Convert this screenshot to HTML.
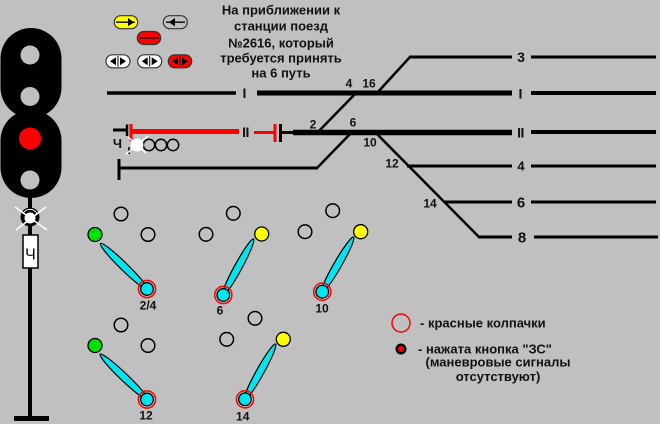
<!DOCTYPE html>
<html>
<head>
<meta charset="utf-8">
<style>
html,body{margin:0;padding:0;background:#c0c0c0;}
svg{display:block;}
text{font-family:"Liberation Sans","Noto Sans CJK SC",sans-serif;font-weight:bold;fill:#111;}
</style>
</head>
<body>
<svg width="660" height="424" viewBox="0 0 660 424" xmlns="http://www.w3.org/2000/svg">
<rect x="0" y="0" width="660" height="424" fill="#c0c0c0"/>

<!-- Signal heads -->
<rect x="0.5" y="28" width="61" height="90" rx="30.5" fill="#000"/>
<rect x="0.5" y="110" width="61" height="88" rx="30.5" fill="#000"/>
<circle cx="30" cy="55" r="9.5" fill="#c0c0c0"/>
<circle cx="30" cy="96.5" r="9.5" fill="#c0c0c0"/>
<circle cx="30" cy="138.5" r="11" fill="#ff0000"/>
<circle cx="30" cy="180" r="9.5" fill="#c0c0c0"/>
<!-- post -->
<rect x="28" y="190" width="4" height="228" fill="#000"/>
<rect x="14" y="416" width="35" height="5" fill="#000"/>
<!-- lamp -->
<circle cx="30" cy="217" r="9.5" fill="#000"/>
<path d="M23 214 A7.5 7.5 0 0 1 37 214" fill="none" stroke="#fff" stroke-width="1"/>
<circle cx="30" cy="218" r="5.5" fill="#fff"/>
<line x1="15" y1="207" x2="47" y2="230" stroke="#fff" stroke-width="1.5"/>
<line x1="46" y1="207" x2="16" y2="230" stroke="#fff" stroke-width="1.5"/>
<!-- route box -->
<rect x="23" y="235" width="15" height="33" fill="#fff" stroke="#000" stroke-width="1.5"/>
<text x="30.5" y="259.5" font-size="16" text-anchor="middle" style="font-weight:normal">Ч</text>

<!-- top buttons -->
<rect x="114.3" y="15.7" width="23.4" height="13" rx="6.5" fill="#ffff00" stroke="#333" stroke-width="1.2"/>
<line x1="116" y1="22.2" x2="135" y2="22.2" stroke="#000" stroke-width="1.3"/>
<polygon points="128,18 134,22.2 128,26.4" fill="#000"/>
<rect x="163.3" y="15.7" width="24" height="13" rx="6.5" fill="#c0c0c0" stroke="#333" stroke-width="1.2"/>
<line x1="166" y1="22.2" x2="185" y2="22.2" stroke="#000" stroke-width="1.3"/>
<polygon points="175,18 169,22.2 175,26.4" fill="#000"/>
<rect x="137.3" y="31.5" width="23.4" height="13" rx="6.5" fill="#ff0000" stroke="#333" stroke-width="1.2"/>
<line x1="139" y1="38" x2="159" y2="38" stroke="#000" stroke-width="1.3"/>

<rect x="106" y="54.8" width="24" height="13" rx="6.5" fill="#fff" stroke="#333" stroke-width="1.2"/>
<polygon points="110,61.3 116,57.3 116,65.3" fill="#000"/>
<polygon points="126,61.3 120,57.3 120,65.3" fill="#000"/>
<line x1="118" y1="56" x2="118" y2="66.5" stroke="#000" stroke-width="1"/>
<rect x="137.7" y="54.8" width="24" height="13" rx="6.5" fill="#fff" stroke="#333" stroke-width="1.2"/>
<polygon points="141.7,61.3 147.7,57.3 147.7,65.3" fill="#000"/>
<polygon points="157.7,61.3 151.7,57.3 151.7,65.3" fill="#000"/>
<line x1="149.7" y1="56" x2="149.7" y2="66.5" stroke="#000" stroke-width="1"/>
<rect x="168.3" y="54.8" width="23.4" height="13" rx="6.5" fill="#ff0000" stroke="#333" stroke-width="1.2"/>
<polygon points="172,61.3 178,57.3 178,65.3" fill="#000"/>
<polygon points="188,61.3 182,57.3 182,65.3" fill="#000"/>
<line x1="180" y1="56" x2="180" y2="66.5" stroke="#000" stroke-width="1"/>

<!-- Title text -->
<text x="281" y="14.5" font-size="13" text-anchor="middle">На приближении к</text>
<text x="281" y="30.5" font-size="13" text-anchor="middle">станции поезд</text>
<text x="281" y="47.5" font-size="13" text-anchor="middle">№2616, который</text>
<text x="281" y="62.5" font-size="13" text-anchor="middle">требуется принять</text>
<text x="281" y="77.5" font-size="13" text-anchor="middle">на 6 путь</text>

<!-- Track 3 -->
<line x1="377" y1="93" x2="410" y2="57" stroke="#000" stroke-width="2.5"/>
<line x1="409" y1="57" x2="512" y2="57" stroke="#000" stroke-width="3"/>
<text x="521" y="62" font-size="14" text-anchor="middle">3</text>
<line x1="531" y1="57" x2="656" y2="57" stroke="#000" stroke-width="3"/>

<!-- Track I -->
<line x1="107" y1="93" x2="236" y2="93" stroke="#000" stroke-width="3.5"/>
<text x="244.5" y="98" font-size="14" text-anchor="middle">I</text>
<line x1="257" y1="93" x2="512" y2="93" stroke="#000" stroke-width="5"/>
<text x="520.5" y="98.5" font-size="14" text-anchor="middle">I</text>
<line x1="531" y1="93" x2="656" y2="93" stroke="#000" stroke-width="4"/>

<!-- Track II -->
<line x1="113" y1="130" x2="127" y2="130" stroke="#000" stroke-width="3"/>
<line x1="127" y1="124.5" x2="127" y2="136" stroke="#000" stroke-width="2.5"/>
<line x1="131" y1="124" x2="131" y2="141" stroke="#ff0000" stroke-width="3"/>
<line x1="131" y1="131.5" x2="239" y2="131.5" stroke="#ff0000" stroke-width="5"/>
<text x="245.5" y="137" font-size="14" text-anchor="middle" letter-spacing="-0.5">II</text>
<line x1="254" y1="132.5" x2="275" y2="132.5" stroke="#ff0000" stroke-width="3"/>
<line x1="275" y1="124" x2="275" y2="142" stroke="#ff0000" stroke-width="3"/>
<line x1="280.5" y1="124" x2="280.5" y2="142" stroke="#000" stroke-width="3"/>
<line x1="280" y1="132.5" x2="294" y2="132.5" stroke="#000" stroke-width="3"/>
<line x1="293" y1="132.5" x2="512" y2="132.5" stroke="#000" stroke-width="5.5"/>
<text x="520.5" y="137.5" font-size="14" text-anchor="middle" letter-spacing="-0.5">II</text>
<line x1="531" y1="132" x2="656" y2="132" stroke="#000" stroke-width="4"/>

<!-- shunting signal -->
<text x="117.5" y="148" font-size="13" text-anchor="middle">Ч</text>
<line x1="129" y1="147" x2="129" y2="154" stroke="#000" stroke-width="1.5"/>
<circle cx="149" cy="145" r="5.7" fill="none" stroke="#000" stroke-width="1.5"/>
<circle cx="161" cy="145" r="5.7" fill="none" stroke="#000" stroke-width="1.5"/>
<circle cx="173" cy="145" r="5.7" fill="none" stroke="#000" stroke-width="1.5"/>
<circle cx="137" cy="145" r="6.5" fill="#fff"/>
<line x1="126" y1="154" x2="148" y2="136" stroke="#fff" stroke-width="1.5"/>
<line x1="128" y1="137" x2="146" y2="153" stroke="#fff" stroke-width="1.5"/>

<!-- bottom track -->
<line x1="119" y1="159" x2="119" y2="180" stroke="#000" stroke-width="3"/>
<line x1="119" y1="168" x2="318" y2="168" stroke="#000" stroke-width="3"/>
<line x1="317" y1="168" x2="352" y2="132" stroke="#000" stroke-width="2.5"/>

<!-- crossovers -->
<line x1="318" y1="132" x2="356" y2="93" stroke="#000" stroke-width="2.5"/>
<line x1="375" y1="132" x2="479" y2="237" stroke="#000" stroke-width="2.5"/>

<!-- tracks 4 6 8 -->
<line x1="407" y1="166" x2="512" y2="166" stroke="#000" stroke-width="3"/>
<text x="521" y="170.5" font-size="13" text-anchor="middle">4</text>
<line x1="531" y1="166" x2="656" y2="166" stroke="#000" stroke-width="3"/>
<line x1="445" y1="202" x2="512" y2="202" stroke="#000" stroke-width="3"/>
<text x="521" y="207.5" font-size="15" text-anchor="middle">6</text>
<line x1="531" y1="202" x2="656" y2="202" stroke="#000" stroke-width="3"/>
<line x1="478" y1="237" x2="512" y2="237" stroke="#000" stroke-width="3"/>
<text x="522" y="242.5" font-size="15" text-anchor="middle">8</text>
<line x1="534" y1="237" x2="658" y2="237" stroke="#000" stroke-width="3"/>

<!-- switch numbers -->
<text x="349" y="87.5" font-size="12" text-anchor="middle">4</text>
<text x="369" y="87.5" font-size="12" text-anchor="middle">16</text>
<text x="313" y="128.5" font-size="12" text-anchor="middle">2</text>
<text x="353" y="126.5" font-size="12" text-anchor="middle">6</text>
<text x="370" y="146.5" font-size="12" text-anchor="middle">10</text>
<text x="392" y="167.5" font-size="12" text-anchor="middle">12</text>
<text x="430" y="207.5" font-size="12" text-anchor="middle">14</text>

<!-- Lever 2/4 -->
<circle cx="121" cy="214" r="6.8" fill="none" stroke="#000" stroke-width="1.5"/>
<circle cx="95" cy="234.5" r="7" fill="#00e000" stroke="#000" stroke-width="1.3"/>
<circle cx="148" cy="234.5" r="6.8" fill="none" stroke="#000" stroke-width="1.5"/>
<ellipse cx="124" cy="266.5" rx="33" ry="3.8" transform="rotate(44.4 124 266.5)" fill="#00e6f0" stroke="#000" stroke-width="1.2"/>
<circle cx="147" cy="289" r="8.6" fill="none" stroke="#ff0000" stroke-width="1.5"/>
<circle cx="147" cy="289" r="6.3" fill="#00e6f0" stroke="#000" stroke-width="1.3"/>
<text x="148" y="309.5" font-size="12" text-anchor="middle">2/4</text>

<!-- Lever 12 -->
<circle cx="121" cy="325" r="6.8" fill="none" stroke="#000" stroke-width="1.5"/>
<circle cx="95" cy="345.5" r="7" fill="#00e000" stroke="#000" stroke-width="1.3"/>
<circle cx="148" cy="345.5" r="6.8" fill="none" stroke="#000" stroke-width="1.5"/>
<ellipse cx="124" cy="377" rx="33" ry="3.8" transform="rotate(43.7 124 377)" fill="#00e6f0" stroke="#000" stroke-width="1.2"/>
<circle cx="147" cy="399.5" r="8.6" fill="none" stroke="#ff0000" stroke-width="1.5"/>
<circle cx="147" cy="399.5" r="6.3" fill="#00e6f0" stroke="#000" stroke-width="1.3"/>
<text x="146" y="419.5" font-size="12" text-anchor="middle">12</text>

<!-- Lever 6 -->
<circle cx="233.3" cy="213.3" r="6.8" fill="none" stroke="#000" stroke-width="1.5"/>
<circle cx="206" cy="234.3" r="6.8" fill="none" stroke="#000" stroke-width="1.5"/>
<circle cx="261.7" cy="234" r="7" fill="#ffff00" stroke="#000" stroke-width="1.3"/>
<ellipse cx="238" cy="267.5" rx="32.5" ry="3.8" transform="rotate(-61.4 238 267.5)" fill="#00e6f0" stroke="#000" stroke-width="1.2"/>
<circle cx="223.3" cy="295" r="8.6" fill="none" stroke="#ff0000" stroke-width="1.5"/>
<circle cx="223.3" cy="295" r="6.3" fill="#00e6f0" stroke="#000" stroke-width="1.3"/>
<text x="220" y="314.5" font-size="12" text-anchor="middle">6</text>

<!-- Lever 10 -->
<circle cx="332.7" cy="210.7" r="6.8" fill="none" stroke="#000" stroke-width="1.5"/>
<circle cx="305" cy="231.7" r="6.8" fill="none" stroke="#000" stroke-width="1.5"/>
<circle cx="360.7" cy="231.7" r="7" fill="#ffff00" stroke="#000" stroke-width="1.3"/>
<ellipse cx="337.5" cy="265" rx="32.3" ry="3.8" transform="rotate(-60.1 337.5 265)" fill="#00e6f0" stroke="#000" stroke-width="1.2"/>
<circle cx="322.3" cy="291.7" r="8.6" fill="none" stroke="#ff0000" stroke-width="1.5"/>
<circle cx="322.3" cy="291.7" r="6.3" fill="#00e6f0" stroke="#000" stroke-width="1.3"/>
<text x="322" y="312.5" font-size="12" text-anchor="middle">10</text>

<!-- Lever 14 -->
<circle cx="255" cy="318.3" r="6.8" fill="none" stroke="#000" stroke-width="1.5"/>
<circle cx="226.7" cy="339.3" r="6.8" fill="none" stroke="#000" stroke-width="1.5"/>
<circle cx="283.3" cy="339.3" r="7" fill="#ffff00" stroke="#000" stroke-width="1.3"/>
<ellipse cx="260" cy="372" rx="32" ry="3.8" transform="rotate(-60.9 260 372)" fill="#00e6f0" stroke="#000" stroke-width="1.2"/>
<circle cx="245" cy="399.3" r="8.6" fill="none" stroke="#ff0000" stroke-width="1.5"/>
<circle cx="245" cy="399.3" r="6.3" fill="#00e6f0" stroke="#000" stroke-width="1.3"/>
<text x="242.7" y="420.5" font-size="12" text-anchor="middle">14</text>

<!-- Legend -->
<circle cx="401" cy="323" r="9" fill="none" stroke="#ff0000" stroke-width="1.5"/>
<text x="420" y="327.5" font-size="13">- красные колпачки</text>
<circle cx="401" cy="349" r="5.5" fill="#000"/>
<circle cx="401" cy="349" r="3" fill="#ff0000"/>
<text x="418" y="353.5" font-size="13">- нажата кнопка "ЗС"</text>
<text x="498" y="366.5" font-size="13" text-anchor="middle">(маневровые сигналы</text>
<text x="498" y="381" font-size="13" text-anchor="middle">отсутствуют)</text>
</svg>
</body>
</html>
